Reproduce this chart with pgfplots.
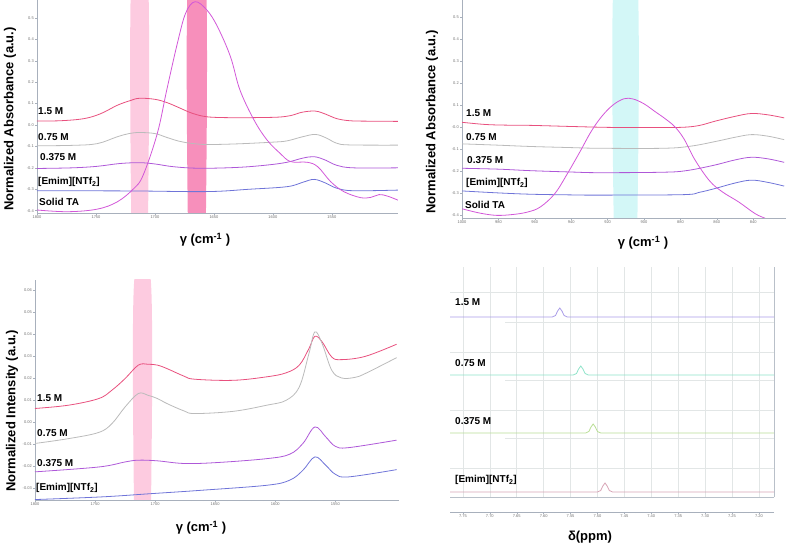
\documentclass[border=0pt]{standalone}
\usepackage{fontspec}
\setmainfont{Liberation Sans}
\usepackage{pgfplots}
\pgfplotsset{compat=1.18}
\definecolor{cA}{HTML}{E8507E}
\definecolor{cB}{HTML}{BBBBBB}
\definecolor{cC}{HTML}{AE58D8}
\definecolor{cD}{HTML}{6F74D8}
\definecolor{cE}{HTML}{D257D8}
\definecolor{bandL}{HTML}{FDCBE0}
\definecolor{bandD}{HTML}{F78FBB}
\definecolor{bandC}{HTML}{D3F7F7}
\definecolor{nA}{HTML}{A99CE8}
\definecolor{nB}{HTML}{8EE3C9}
\definecolor{nC}{HTML}{B9DE95}
\definecolor{nD}{HTML}{D7A3B5}
\definecolor{axgray}{HTML}{A8B0BC}
\definecolor{tkgray}{HTML}{707070}
\definecolor{grd}{HTML}{E2E6E6}
\pgfplotsset{
  panel/.style={scale only axis, axis x line*=bottom, axis y line*=left,
    axis line style={draw=axgray, line width=0.5pt},
    tick style={draw=axgray, line width=0.4pt},
    major tick length=2pt, minor tick length=1.2pt, tick align=outside,
    ticklabel style={font=\fontsize{4}{4}\selectfont, text=tkgray, inner sep=1pt},
    /pgf/number format/assume math mode=true,
    /pgf/number format/1000 sep={},
    scaled ticks=false,
    x dir=reverse, clip=true,
    every axis plot/.append style={line width=0.8pt, smooth, tension=0.6},
    minor x tick num=4},
  fmt1/.style={yticklabel style={/pgf/number format/fixed, /pgf/number format/fixed zerofill, /pgf/number format/precision=1}},
  fmt2/.style={yticklabel style={/pgf/number format/fixed, /pgf/number format/fixed zerofill, /pgf/number format/precision=2}},
}
\newcommand{\lab}[1]{\fontsize{10}{12}\selectfont\bfseries #1}
\newcommand{\axl}{\fontsize{13}{15}\selectfont\bfseries}
\begin{document}
\begin{tikzpicture}
\path[use as bounding box] (0pt,0pt) rectangle (787pt,546pt);
% ---------- Panel A ----------
\begin{axis}[panel, fmt1, width=361pt, height=213pt, at={(37pt,333pt)}, anchor=south west,
  xmin=1494, xmax=1800, ymin=-0.411, ymax=0.584,
  xtick={1550,1600,1650,1700,1750,1800},
  ytick={-0.4,-0.3,-0.2,-0.1,0,0.1,0.2,0.3,0.4,0.5}]
\addplot[draw=none, fill=bandL, forget plot, smooth=false] coordinates {(1720,-0.5) (1720,0.7) (1706,0.7) (1706,-0.5)} -- cycle;
\addplot[draw=none, fill=bandD, forget plot, smooth=false] coordinates {(1672,-0.5) (1672,0.7) (1657,0.7) (1657,-0.5)} -- cycle;
\addplot[cA] coordinates {(1800,0.019)(1780,0.020)(1760,0.030)(1746,0.053)(1732,0.092)(1721,0.114)(1713,0.125)(1700,0.120)(1690,0.105)(1680,0.082)(1670,0.058)(1660,0.042)(1650,0.036)(1630,0.034)(1610,0.035)(1595,0.037)(1585,0.044)(1575,0.060)(1564,0.065)(1555,0.050)(1546,0.030)(1535,0.020)(1520,0.018)(1494,0.017)};
\addplot[cB] coordinates {(1800,-0.097)(1770,-0.095)(1749,-0.087)(1732,-0.055)(1722,-0.040)(1713,-0.035)(1700,-0.040)(1690,-0.058)(1680,-0.075)(1670,-0.085)(1656,-0.091)(1630,-0.088)(1600,-0.080)(1588,-0.074)(1575,-0.055)(1564,-0.044)(1555,-0.060)(1546,-0.085)(1535,-0.093)(1494,-0.094)};
\addplot[cC] coordinates {(1800,-0.203)(1770,-0.200)(1749,-0.193)(1730,-0.180)(1713,-0.176)(1700,-0.182)(1684,-0.195)(1662,-0.202)(1630,-0.198)(1605,-0.187)(1588,-0.174)(1575,-0.155)(1565,-0.148)(1555,-0.165)(1546,-0.188)(1532,-0.200)(1494,-0.200)};
\addplot[cD] coordinates {(1800,-0.307)(1720,-0.308)(1656,-0.311)(1620,-0.300)(1588,-0.288)(1575,-0.268)(1565,-0.254)(1555,-0.272)(1546,-0.295)(1532,-0.307)(1494,-0.304)};
\addplot[cE] coordinates {(1800,-0.397)(1774,-0.405)(1749,-0.393)(1732,-0.359)(1718,-0.297)(1710,-0.234)(1698,-0.039)(1690,0.164)(1681,0.382)(1674,0.522)(1666,0.576)(1656,0.537)(1647,0.459)(1636,0.319)(1628,0.164)(1616,0.023)(1605,-0.070)(1594,-0.132)(1585,-0.171)(1571,-0.174)(1562,-0.195)(1551,-0.265)(1540,-0.311)(1526,-0.339)(1517,-0.338)(1510,-0.325)(1503,-0.332)(1494,-0.351)};
\end{axis}
% ---------- Panel B ----------
\begin{axis}[panel, width=324pt, height=218pt, at={(462pt,328pt)}, anchor=south west,
  xmin=822, xmax=1000, ymin=-0.414, ymax=0.577,
  xtick={840,860,880,900,920,940,960,980,1000},
  ytick={-0.4,-0.3,-0.2,-0.1,0,0.1,0.2,0.3,0.4,0.5},
  yticklabels={-0.4,-0.3,-0.2,-0.1,-0.0,0.1,0.2,0.3,0.4,0.5}]
\addplot[draw=none, fill=bandC, forget plot, smooth=false] coordinates {(916.5,-0.5) (916.5,0.7) (903.8,0.7) (903.8,-0.5)} -- cycle;
\addplot[cA] coordinates {(1000,0.021)(987,0.011)(975,0.008)(962,0.007)(940,0.002)(920,-0.002)(900,-0.003)(880,-0.002)(870,0.006)(861,0.026)(850,0.048)(841,0.061)(832,0.055)(823,0.041)};
\addplot[cB] coordinates {(1000,-0.077)(980,-0.083)(962,-0.089)(940,-0.094)(925,-0.097)(889,-0.097)(874,-0.087)(860,-0.065)(850,-0.047)(841,-0.035)(832,-0.042)(823,-0.058)};
\addplot[cC] coordinates {(1000,-0.188)(980,-0.192)(962,-0.199)(940,-0.205)(925,-0.208)(890,-0.206)(877,-0.199)(862,-0.175)(850,-0.150)(841,-0.138)(832,-0.145)(823,-0.161)};
\addplot[cD] coordinates {(1000,-0.291)(980,-0.300)(962,-0.306)(940,-0.309)(925,-0.310)(879,-0.308)(870,-0.298)(861,-0.280)(850,-0.255)(841,-0.242)(832,-0.252)(823,-0.269)};
\addplot[cE] coordinates {(1000,-0.372)(990,-0.392)(981,-0.402)(972,-0.398)(964,-0.387)(957,-0.364)(949,-0.303)(942,-0.211)(935,-0.110)(929,-0.020)(923,0.050)(917,0.100)(911,0.128)(906,0.127)(900,0.105)(894,0.070)(888,0.035)(883,0.000)(878,-0.055)(872,-0.150)(864,-0.245)(857,-0.295)(848,-0.341)(839,-0.394)(833,-0.417)(830,-0.43)};
\end{axis}
% ---------- Panel C ----------
\begin{axis}[panel, fmt2, width=364pt, height=220pt, at={(35pt,46pt)}, anchor=south west,
  xmin=1497, xmax=1800, ymin=-0.0355, ymax=0.0645,
  xtick={1550,1600,1650,1700,1750,1800},
  ytick={-0.03,-0.02,-0.01,0,0.01,0.02,0.03,0.04,0.05,0.06}]
\addplot[draw=none, fill=bandL, forget plot, smooth=false] coordinates {(1717.5,-0.04) (1717.5,0.0635) (1703.5,0.0635) (1703.5,-0.04)} -- cycle;
\addplot[cA] coordinates {(1800,0.0061)(1772,0.0076)(1747,0.0106)(1736,0.0144)(1725,0.0197)(1714,0.0258)(1706,0.0262)(1698,0.0258)(1690,0.0242)(1676,0.0208)(1667,0.0194)(1635,0.0189)(1607,0.0205)(1591,0.0223)(1580,0.0258)(1572,0.0333)(1567,0.0389)(1561,0.0364)(1553,0.0295)(1545,0.0283)(1525,0.0298)(1499,0.0353)};
\addplot[cB] coordinates {(1800,-0.0098)(1772,-0.0076)(1747,-0.0048)(1736,-0.0008)(1725,0.0068)(1714,0.0129)(1706,0.0121)(1698,0.0106)(1690,0.0083)(1676,0.0050)(1667,0.0038)(1635,0.0048)(1607,0.0076)(1591,0.0098)(1580,0.0159)(1572,0.0310)(1567,0.0409)(1561,0.0356)(1553,0.0235)(1545,0.0200)(1534,0.0202)(1525,0.0220)(1499,0.0292)};
\addplot[cC] coordinates {(1800,-0.0227)(1747,-0.0205)(1725,-0.0182)(1714,-0.0174)(1698,-0.0177)(1676,-0.0189)(1649,-0.0185)(1607,-0.0167)(1588,-0.0147)(1577,-0.0098)(1567,-0.0023)(1558,-0.0068)(1550,-0.0111)(1539,-0.0117)(1499,-0.0083)};
\addplot[cD] coordinates {(1800,-0.0353)(1745,-0.0341)(1703,-0.0326)(1662,-0.0311)(1607,-0.0288)(1588,-0.0265)(1577,-0.0220)(1567,-0.0159)(1558,-0.0197)(1550,-0.0238)(1539,-0.0250)(1499,-0.0217)};
\end{axis}
% ---------- Panel D ----------
\begin{axis}[scale only axis, width=324pt, height=230pt, at={(450pt,49pt)}, anchor=south west,
  xmin=7.172, xmax=7.774, ymin=0, ymax=230, x dir=reverse,
  axis x line*=bottom, axis y line*=right,
  axis line style={draw=axgray!80, line width=0.5pt},
  xtick={7.20,7.25,7.30,7.35,7.40,7.45,7.50,7.55,7.60,7.65,7.70,7.75},
  ytick={29,87,145,205},
  xticklabels={}, yticklabels={}, major tick length=0pt,
  grid=major, grid style={draw=grd, line width=0.5pt},
  every axis plot/.append style={line width=0.8pt}]
\addplot[grd, line width=0.6pt] coordinates {(7.672,175)(7.172,175)};
\addplot[grd, line width=0.6pt] coordinates {(7.672,117)(7.172,117)};
\addplot[grd, line width=0.6pt] coordinates {(7.672,59)(7.172,59)};
\addplot[nA] coordinates {(7.774,180)(7.584,180)(7.578,181.5)(7.574,186)(7.570,189)(7.566,186)(7.562,181.5)(7.556,180)(7.172,180)};
\addplot[nB] coordinates {(7.774,122)(7.545,122)(7.539,123.5)(7.535,128)(7.531,131)(7.527,128)(7.523,123.5)(7.517,122)(7.172,122)};
\addplot[nC] coordinates {(7.774,64)(7.522,64)(7.516,65.5)(7.512,70)(7.508,73)(7.504,70)(7.500,65.5)(7.494,64)(7.172,64)};
\addplot[nD] coordinates {(7.774,5)(7.500,5)(7.494,6.5)(7.490,11)(7.486,14)(7.482,11)(7.478,6.5)(7.472,5)(7.172,5)};
\end{axis}
\begin{axis}[scale only axis, width=324pt, height=1pt, at={(450pt,34pt)}, anchor=south west,
  xmin=7.172, xmax=7.774, ymin=0, ymax=1, x dir=reverse,
  axis x line*=bottom, axis y line=none,
  axis line style={draw=axgray, line width=0.5pt},
  tick style={draw=axgray, line width=0.4pt},
  major tick length=2pt, minor tick length=1.2pt, tick align=outside, minor x tick num=4,
  xtick={7.20,7.25,7.30,7.35,7.40,7.45,7.50,7.55,7.60,7.65,7.70,7.75},
  ticklabel style={font=\fontsize{4}{4}\selectfont, text=tkgray, inner sep=1pt},
  /pgf/number format/assume math mode=true,
  xticklabel style={/pgf/number format/fixed, /pgf/number format/fixed zerofill, /pgf/number format/precision=2}]
\end{axis}
% ---------- labels ----------
\node[anchor=west, inner sep=0pt] at (38pt,435pt) {\lab{1.5 M}};
\node[anchor=west, inner sep=0pt] at (38pt,409pt) {\lab{0.75 M}};
\node[anchor=west, inner sep=0pt] at (40pt,389pt) {\lab{0.375 M}};
\node[anchor=west, inner sep=0pt] at (38pt,364pt) {\lab{[Emim][NTf\textsubscript{2}]}};
\node[anchor=west, inner sep=0pt] at (39pt,344pt) {\lab{Solid TA}};
\node[anchor=west, inner sep=0pt] at (466pt,433pt) {\lab{1.5 M}};
\node[anchor=west, inner sep=0pt] at (466pt,409pt) {\lab{0.75 M}};
\node[anchor=west, inner sep=0pt] at (467pt,386pt) {\lab{0.375 M}};
\node[anchor=west, inner sep=0pt] at (466pt,363pt) {\lab{[Emim][NTf\textsubscript{2}]}};
\node[anchor=west, inner sep=0pt] at (465pt,341pt) {\lab{Solid TA}};
\node[anchor=west, inner sep=0pt] at (37pt,148pt) {\lab{1.5 M}};
\node[anchor=west, inner sep=0pt] at (37pt,113pt) {\lab{0.75 M}};
\node[anchor=west, inner sep=0pt] at (37pt,83pt) {\lab{0.375 M}};
\node[anchor=west, inner sep=0pt] at (36pt,58pt) {\lab{[Emim][NTf\textsubscript{2}]}};
\node[anchor=west, inner sep=0pt] at (455pt,244pt) {\lab{1.5 M}};
\node[anchor=west, inner sep=0pt] at (455pt,183pt) {\lab{0.75 M}};
\node[anchor=west, inner sep=0pt] at (455pt,125pt) {\lab{0.375 M}};
\node[anchor=west, inner sep=0pt] at (455pt,66pt) {\lab{[Emim][NTf\textsubscript{2}]}};
\node[rotate=90, inner sep=0pt] at (10pt,427pt) {\axl Normalized Absorbance (a.u.)};
\node[rotate=90, inner sep=0pt] at (432pt,424pt) {\axl Normalized Absorbance (a.u.)};
\node[rotate=90, inner sep=0pt] at (12pt,135pt) {\axl Normalized Intensity (a.u.)};
\node[inner sep=0pt] at (205pt,306pt) {\axl γ (cm\textsuperscript{-1} )};
\node[inner sep=0pt] at (643pt,303pt) {\axl γ (cm\textsuperscript{-1} )};
\node[inner sep=0pt] at (201pt,18pt) {\axl γ (cm\textsuperscript{-1} )};
\node[inner sep=0pt] at (590pt,9pt) {\axl δ(ppm)};
\end{tikzpicture}
\end{document}
